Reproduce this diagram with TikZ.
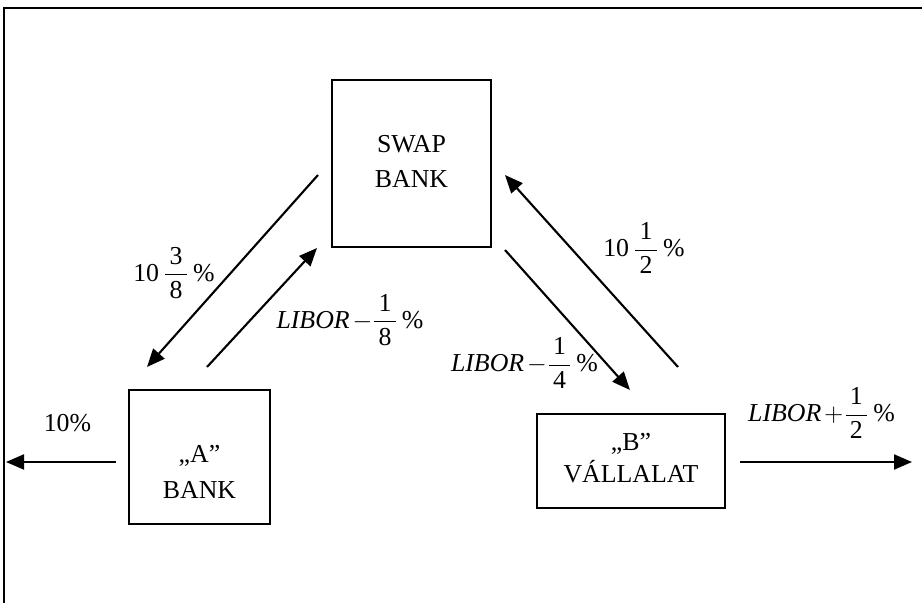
\documentclass[tikz,border=0pt]{standalone}
\usepackage{amsmath}
\usepackage{fontspec}
\setmainfont{Liberation Serif}
\usetikzlibrary{arrows.meta}

\newcommand{\pfrac}[2]{\dfrac{\mkern3mu\text{#1}\mkern3mu}{\mkern3mu\text{#2}\mkern3mu}}

\begin{document}
\begin{tikzpicture}[
        box/.style = {draw, line width=1.4pt, align=center, inner sep=0pt},
        flow/.style = {line width=1.2pt, -{Triangle[length=0.36cm,width=0.3cm]}},
        rate/.style = {font=\fontsize{14.7}{18}\selectfont, inner sep=0pt},]
        \useasboundingbox (0,0) rectangle (18.44,12.06);
        \draw[line width=1.6pt] (0.08,0) -- (0.08,11.9) -- (18.44,11.9);

        \node[box, font=\fontsize{14.7}{20.4}\selectfont, minimum width=3.18cm, text height=2.16cm, text depth=1.18cm] (swap) at (8.23,8.79) {SWAP\\BANK};
        \node[box, font=\fontsize{14.7}{20.4}\selectfont, minimum width=2.82cm, text height=2.16cm, text depth=0.52cm] (abank) at (3.99,2.92) {„A”\\BANK};
        \node[box, font=\fontsize{14.7}{18.1}\selectfont, minimum width=3.76cm, text height=1.36cm, text depth=0.52cm] (bcorp) at (12.62,2.84) {„B”\\VÁLLALAT};

        \coordinate (s1) at (6.36,8.56);
        \coordinate (a1) at (2.94,4.72);
        \coordinate (a2) at (4.14,4.72);
        \coordinate (s2) at (6.34,7.10);
        \coordinate (s3) at (10.10,7.06);
        \coordinate (b1) at (12.60,4.26);
        \coordinate (b2) at (13.56,4.72);
        \coordinate (s4) at (10.10,8.56);
        \coordinate (aout) at (2.32,2.82);
        \coordinate (west) at (0.12,2.82);
        \coordinate (bout) at (14.80,2.82);
        \coordinate (east) at (18.24,2.82);

        \draw[flow] (s1) -- (a1);
        \draw[flow] (a2) -- (s2);
        \draw[flow] (s3) -- (b1);
        \draw[flow] (b2) -- (s4);
        \draw[flow] (aout) -- (west);
        \draw[flow] (bout) -- (east);

        \node[rate] (r1) at (3.48,6.60) {$\text{10}\,\pfrac{3}{8}\,\%$};
        \node[rate] (r2) at (7.00,5.66) {$\textit{LIBOR}\mkern2mu{-}\pfrac{1}{8}\,\%$};
        \node[rate] (r3) at (12.88,7.10) {$\text{10}\,\pfrac{1}{2}\,\%$};
        \node[rate] (r4) at (10.49,4.80) {$\textit{LIBOR}\mkern2mu{-}\pfrac{1}{4}\,\%$};
        \node[rate] (r5) at (16.43,3.80) {$\textit{LIBOR}\mkern2mu{+}\pfrac{1}{2}\,\%$};
        \node[rate] (r6) at (1.35,3.60) {10\%};

\end{tikzpicture}
\end{document}
